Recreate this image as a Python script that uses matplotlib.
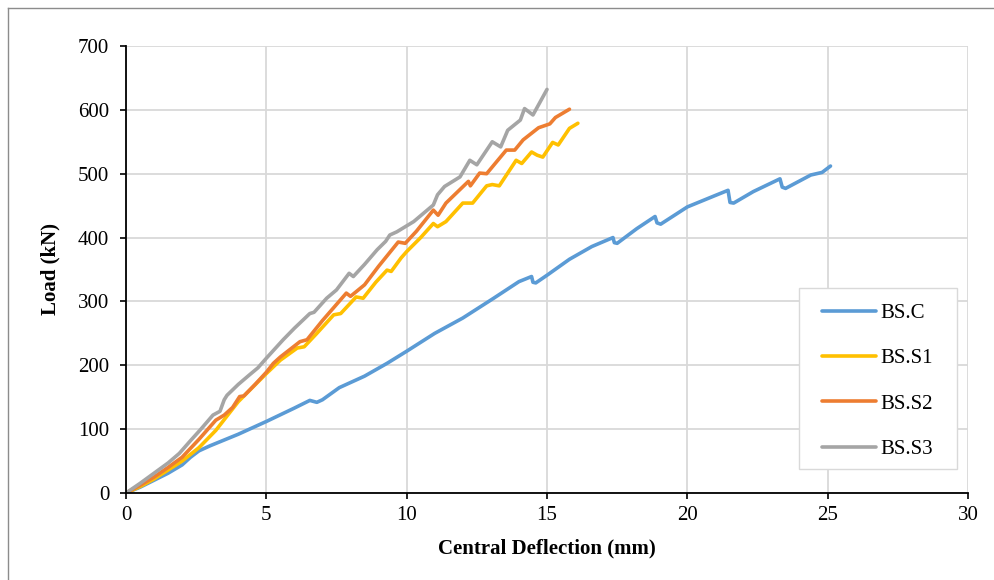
"""Load vs central deflection curves for the BS beams"""

import matplotlib
matplotlib.use('Agg')
import matplotlib.pyplot as plt
from matplotlib.lines import Line2D
from matplotlib.patches import Rectangle

plt.rcParams['font.family'] = ['Liberation Serif', 'DejaVu Serif']

# BS.C (control)
bsc_x = [0, 0.5, 1.0, 1.5, 2.0, 2.3, 2.6, 3.0, 4.0, 5.0, 6.0, 6.55, 6.8, 7.0, 7.6,
         8.5, 9.3, 10.0, 11.0, 12.0, 13.1, 14.0, 14.45, 14.5, 14.6, 15.0, 15.8,
         16.6, 17.35, 17.4, 17.5, 18.2, 18.85, 18.92, 19.05, 20.0, 21.0, 21.45,
         21.52, 21.65, 22.35, 23.3, 23.38, 23.5, 24.4, 24.8, 25.1]
bsc_y = [0, 9, 20, 31, 44, 56, 66, 74, 92, 112, 133, 145, 142, 146, 165,
         183, 203, 222, 250, 274, 305, 331, 339, 330, 329, 341, 366,
         386, 400, 392, 391, 414, 433, 423, 421, 448, 466, 474,
         455, 454, 472, 492, 479, 477, 498, 502, 512]

# BS.S1
bs1_x = [0, 0.5, 1.0, 1.5, 2.0, 2.6, 3.2, 4.0, 4.5, 5.0, 5.5, 6.1, 6.35, 6.8, 7.4,
         7.65, 8.2, 8.45, 8.9, 9.3, 9.45, 9.8, 10.0, 10.5, 10.95, 11.1, 11.4,
         12.0, 12.35, 12.85, 13.05, 13.3, 13.9, 14.1, 14.45, 14.65, 14.85, 15.2,
         15.4, 15.8, 16.1]
bs1_y = [0, 10, 22, 36, 50, 71, 98, 143, 165, 187, 208, 227, 229, 250, 279,
         281, 307, 305, 330, 349, 347, 368, 378, 400, 422, 417, 425,
         454, 454, 481, 483, 481, 521, 516, 534, 529, 526, 549,
         545, 571, 579]

# BS.S2
bs2_x = [0, 0.5, 1.0, 1.5, 2.0, 2.6, 3.2, 3.5, 3.8, 4.05, 4.2, 4.6, 5.0, 5.25,
         5.5, 6.2, 6.45, 7.0, 7.85, 8.0, 8.5, 9.0, 9.7, 9.95, 10.35, 10.95,
         11.12, 11.4, 12.2, 12.27, 12.6, 12.85, 13.55, 13.85, 14.15, 14.7, 15.1,
         15.3, 15.8]
bs2_y = [0, 12, 25, 40, 56, 84, 114, 122, 134, 151, 152, 170, 189, 203,
         213, 237, 240, 270, 313, 308, 326, 355, 393, 391, 410, 443,
         435, 454, 488, 481, 501, 500, 537, 537, 553, 572, 578,
         588, 601]

# BS.S3
bs3_x = [0, 0.5, 1.0, 1.5, 1.9, 2.3, 2.65, 3.1, 3.35, 3.5, 3.6, 4.0, 4.4, 4.7,
         5.0, 5.6, 6.0, 6.55, 6.7, 7.15, 7.5, 7.95, 8.1, 8.5, 8.95, 9.25, 9.4,
         9.65, 10.25, 10.95, 11.1, 11.35, 11.9, 12.25, 12.5, 13.05, 13.35, 13.6,
         14.05, 14.2, 14.5, 15.0]
bs3_y = [0, 15, 31, 47, 62, 82, 99, 122, 128, 146, 153, 170, 185, 196,
         211, 240, 258, 281, 283, 305, 318, 344, 339, 358, 381, 394, 404,
         409, 425, 451, 467, 480, 495, 521, 514, 550, 542, 568,
         584, 602, 592, 632]

series = [
    ('BS.C', bsc_x, bsc_y, '#5B9BD5'),
    ('BS.S1', bs1_x, bs1_y, '#FFC000'),
    ('BS.S2', bs2_x, bs2_y, '#ED7D31'),
    ('BS.S3', bs3_x, bs3_y, '#A5A5A5'),
]

x_ticks = [0, 5, 10, 15, 20, 25, 30]
y_ticks = [0, 100, 200, 300, 400, 500, 600, 700]


def main():
    fig = plt.figure(figsize=(9.95, 5.8), dpi=100)
    ax = fig.add_axes([0.1266, 0.15, 0.8463, 0.7707])

    for name, xs, ys, color in series:
        ax.plot(xs, ys, color=color, linewidth=2.6, label=name,
                solid_joinstyle='round', solid_capstyle='round', zorder=3)

    ax.set_xlim(0, 30)
    ax.set_ylim(0, 700)
    ax.set_xticks(x_ticks)
    ax.set_yticks(y_ticks)
    ax.grid(True, color='#D9D9D9', linewidth=1.3)
    ax.set_axisbelow(True)

    for side in ['top', 'right']:
        ax.spines[side].set_visible(False)
    for side in ['left', 'bottom']:
        ax.spines[side].set_color('black')
        ax.spines[side].set_linewidth(1.3)
        ax.spines[side].set_zorder(4)

    ax.tick_params(axis='both', direction='out', length=4, width=1.2,
                   labelsize=15, colors='black')
    ax.tick_params(axis='x', pad=5)
    ax.tick_params(axis='y', pad=8)

    ax.set_xlabel('Central Deflection (mm)', fontsize=15, fontweight='bold',
                  labelpad=10)
    ax.set_ylabel('Load (kN)', fontsize=15, fontweight='bold', labelpad=13)

    # legend box drawn separately so its padding matches the original
    box = Rectangle((0.7993, 0.0537), 0.1876, 0.4049, transform=ax.transAxes,
                    facecolor='white', edgecolor='#D9D9D9', linewidth=1.0,
                    zorder=5, clip_on=False)
    ax.add_patch(box)
    leg = ax.legend(loc='upper left', bbox_to_anchor=(0.8266, 0.4237),
                    fontsize=15, frameon=False,
                    handlelength=2.6, handletextpad=0.2, labelspacing=1.23,
                    borderpad=0, borderaxespad=0)
    leg.set_zorder(6)

    # outer chart border (left and top edges visible)
    fig.add_artist(Line2D([0.008, 0.008], [0.0, 0.986], color='#8C8C8C',
                          linewidth=1.0, transform=fig.transFigure))
    fig.add_artist(Line2D([0.008, 1.0], [0.986, 0.986], color='#8C8C8C',
                          linewidth=1.0, transform=fig.transFigure))

    fig.savefig('out.png', dpi=100)


if __name__ == "__main__":
    main()
